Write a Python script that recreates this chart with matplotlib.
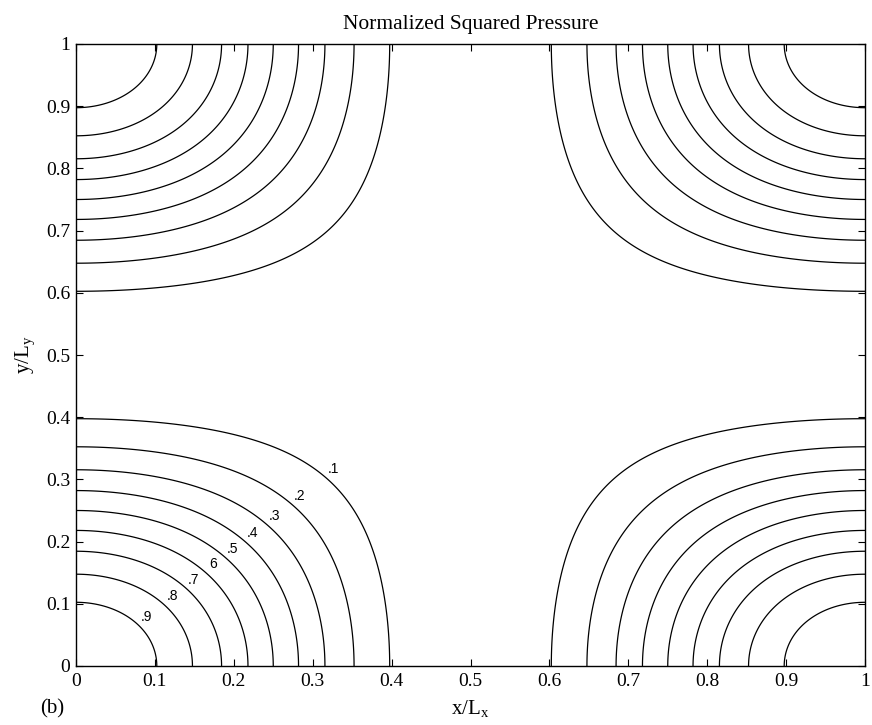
import numpy as np
import matplotlib
matplotlib.use("Agg")
import matplotlib.pyplot as plt

# Data
mode_x = 1
mode_y = 1
levels = [0.1, 0.2, 0.3, 0.4, 0.5, 0.6, 0.7, 0.8, 0.9]
level_labels = ['.1', '.2', '.3', '.4', '.5', '6', '.7', '.8', '.9']
x_ticks = [0, 0.1, 0.2, 0.3, 0.4, 0.5, 0.6, 0.7, 0.8, 0.9, 1]
y_ticks = [0, 0.1, 0.2, 0.3, 0.4, 0.5, 0.6, 0.7, 0.8, 0.9, 1]
tick_labels = ['0', '0.1', '0.2', '0.3', '0.4', '0.5', '0.6', '0.7', '0.8', '0.9', '1']

plt.rcParams['font.family'] = ['Liberation Serif', 'DejaVu Serif']
plt.rcParams['mathtext.fontset'] = 'custom'
plt.rcParams['mathtext.rm'] = 'Liberation Serif'

fig = plt.figure(figsize=(8.72, 7.25), dpi=100)
ax = fig.add_axes([76/872, 1 - 666/725, (865-76)/872, (666-44)/725])

x = np.linspace(0, 1, 601)
y = np.linspace(0, 1, 601)
X, Y = np.meshgrid(x, y)
P = np.cos(mode_x*np.pi*X)**2 * np.cos(mode_y*np.pi*Y)**2

ax.contour(X, Y, P, levels=levels, colors='black', linewidths=0.9)

# labels along the diagonal of the lower-left corner
for lev, lab in zip(levels, level_labels):
    t = np.arccos(np.sqrt(np.sqrt(lev))) / np.pi
    ax.annotate(lab, (t, t), xytext=(13, 4), textcoords='offset pixels',
                ha='center', va='center', fontsize=10,
                family=['Liberation Sans', 'DejaVu Sans'])

ax.set_xlim(0, 1)
ax.set_ylim(0, 1)
ax.set_xticks(x_ticks)
ax.set_yticks(y_ticks)
ax.set_xticklabels(tick_labels)
ax.set_yticklabels(tick_labels)
ax.tick_params(direction='in', top=True, right=True, length=5, width=0.8,
               labelsize=14)
ax.tick_params(axis='x', pad=5)
ax.tick_params(axis='y', pad=4)
for s in ax.spines.values():
    s.set_linewidth(1.0)

ax.set_title('Normalized Squared Pressure', fontsize=15.5, pad=11)
ax.set_xlabel(r'x/L$_\mathrm{x}$', fontsize=15, labelpad=6)
ax.set_ylabel(r'y/L$_\mathrm{y}$', fontsize=15, labelpad=6)
fig.text(40/872, 1 - 709/725, '(b)', fontsize=15, va='center', ha='left')

fig.savefig('out.png', dpi=100)
